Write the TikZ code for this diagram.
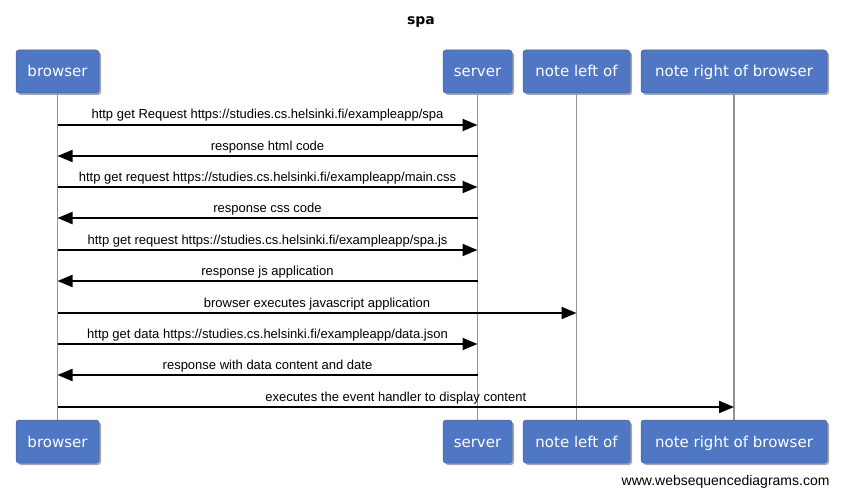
\documentclass[tikz,border=0pt]{standalone}
\usepackage{fontspec}
\setmainfont{Liberation Sans}
\newfontfamily\boxfont{DejaVu Sans}
\usetikzlibrary{shadows,arrows.meta}
\definecolor{boxblue}{HTML}{4F77C4}
\begin{document}
\begin{tikzpicture}[x=1pt,y=-1pt,
 actor/.style={draw=boxblue!85!black, line width=0.5pt, fill=boxblue, rounded corners=3pt,
   minimum height=43pt, inner xsep=0pt, text height=12.5pt, text depth=1.5pt, text=white,
   font=\boxfont\fontsize{15}{18}\selectfont,
   drop shadow={shadow xshift=2pt, shadow yshift=-2pt, opacity=0.35, fill=black}},
 life/.style={draw=gray!85, line width=1.5pt},
 msg/.style={draw=black, line width=2pt, -{Triangle[length=15pt,width=12pt]}},
 lbl/.style={above, inner sep=2.5pt, text height=9.5pt, text depth=2.5pt, font=\fontsize{13}{15}\selectfont}]
\useasboundingbox[fill=white] (0,0) rectangle (842,497);
\node[font=\boxfont\bfseries\fontsize{14}{16}\selectfont] (title) at (421,22) {spa};
% top actors
\node[actor, minimum width=83pt] (b) at (57.5,71.5) {browser};
\node[actor, minimum width=69pt] (s) at (477.5,71.5) {server};
\node[actor, minimum width=107pt] (nl) at (576.5,71.5) {note left of};
\node[actor, minimum width=186pt] (nr) at (734,71.5) {note right of browser};
% bottom actors
\node[actor, minimum width=83pt] (b2) at (57.5,441.5) {browser};
\node[actor, minimum width=69pt] (s2) at (477.5,441.5) {server};
\node[actor, minimum width=107pt] (nl2) at (576.5,441.5) {note left of};
\node[actor, minimum width=186pt] (nr2) at (734,441.5) {note right of browser};
% lifelines
\draw[life] (b.south) -- (b2.north);
\draw[life] (s.south) -- (s2.north);
\draw[life] (nl.south) -- (nl2.north);
\draw[life] (nr.south) -- (nr2.north);
% messages
\draw[msg] (b.south |- 0,125) -- node[lbl] {http get Request https://studies.cs.helsinki.fi/exampleapp/spa} (s.south |- 0,125);
\draw[msg] (s.south |- 0,156) -- node[lbl] {response html code} (b.south |- 0,156);
\draw[msg] (b.south |- 0,187) -- node[lbl] {http get request https://studies.cs.helsinki.fi/exampleapp/main.css} (s.south |- 0,187);
\draw[msg] (s.south |- 0,218) -- node[lbl] {response css code} (b.south |- 0,218);
\draw[msg] (b.south |- 0,250) -- node[lbl] {http get request https://studies.cs.helsinki.fi/exampleapp/spa.js} (s.south |- 0,250);
\draw[msg] (s.south |- 0,281) -- node[lbl] {response js application} (b.south |- 0,281);
\draw[msg] (b.south |- 0,313) -- node[lbl] {browser executes javascript application} (nl.south |- 0,313);
\draw[msg] (b.south |- 0,344) -- node[lbl] {http get data https://studies.cs.helsinki.fi/exampleapp/data.json} (s.south |- 0,344);
\draw[msg] (s.south |- 0,375) -- node[lbl] {response with data content and date} (b.south |- 0,375);
\draw[msg] (b.south |- 0,407) -- node[lbl] {executes the event handler to display content} (nr.south |- 0,407);
\node[anchor=east, font=\fontsize{14}{16}\selectfont] (wm) at (833,482) {www.websequencediagrams.com};
\end{tikzpicture}
\end{document}
